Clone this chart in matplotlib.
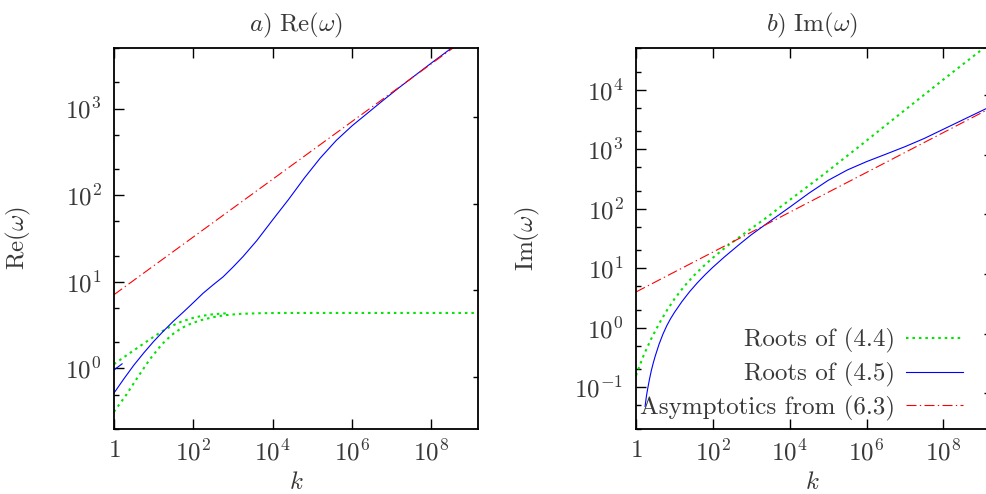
import matplotlib
matplotlib.use('Agg')
import matplotlib.pyplot as plt
from matplotlib.ticker import LogLocator, FixedLocator, NullLocator, NullFormatter

# Real part of the dispersion roots
k_re_blue = [1, 1.78, 3.16, 5.62, 10, 17.8, 31.6, 56.2, 100, 178, 316, 562, 1000, 1780,
             3980, 1e4, 2.51e4, 6.31e4, 1.58e5, 3.98e5, 1e6, 2.51e6, 6.31e6, 1.58e7,
             3.98e7, 1e8, 3.63e8, 1.5e9]
re_blue = [0.52, 0.76, 1.09, 1.51, 2.05, 2.71, 3.52, 4.48, 5.75, 7.41, 9.23, 11.4, 14.8,
           19.5, 29.9, 51.9, 89.1, 158, 268, 427, 631, 891, 1260, 1760, 2430, 3350, 5190,
           8410]
k_re_blue2 = [1, 1.6]
re_blue2 = [0.96, 1.13]
k_re_green1 = [1, 2.0, 3.98, 7.94, 15.8, 28.2, 50.1, 89.1, 158, 316, 794]
re_green1 = [1.12, 1.40, 1.74, 2.16, 2.66, 3.09, 3.47, 3.78, 4.03, 4.22, 4.35]
k_re_green2 = [1, 2.0, 3.98, 7.94, 15.8, 28.2, 50.1, 89.1, 158, 316, 631, 1580, 5010,
               2e4, 1.5e9]
re_green2 = [0.316, 0.49, 0.794, 1.27, 1.88, 2.43, 2.92, 3.31, 3.61, 3.91, 4.12, 4.27,
             4.34, 4.37, 4.37]
k_re_asym = [1, 1.5e9]
re_asym = [7.1, 8100]

# Imaginary part
k_im_blue = [1.72, 1.86, 2.0, 2.24, 2.51, 2.82, 3.16, 3.98, 5.01, 6.31, 7.94, 10, 15.8,
             25.1, 39.8, 63.1, 100, 200, 513, 1000, 3160, 1e4, 3.16e4, 1e5, 3.16e5,
             1e6, 3.16e6, 1e7, 3.16e7, 1e8, 3.16e8, 1.5e9]
im_blue = [0.048, 0.0705, 0.0929, 0.137, 0.193, 0.259, 0.335, 0.531, 0.781, 1.083,
           1.427, 1.814, 2.78, 4.08, 5.73, 7.81, 10.4, 15.5, 25.8, 36.5, 62.4, 106, 182,
           299, 447, 617, 822, 1100, 1510, 2160, 3090, 5010]
k_im_green = [1, 1.26, 1.58, 2.0, 2.51, 3.16, 4.47, 6.31, 10, 17.8, 31.6, 56.2, 100,
              229, 933, 2510, 5620, 6.17e4, 6.92e5, 6.17e6, 1.26e8, 1.5e9]
im_green = [0.158, 0.237, 0.344, 0.484, 0.662, 0.883, 1.34, 1.94, 3.05, 4.94, 7.48,
            10.75, 15.0, 23.3, 45.1, 71.1, 106, 339, 1150, 3550, 16600, 57500]
k_im_asym = [1, 1.5e9]
im_asym = [4.0, 4700]

k_ticks = [1, 1e2, 1e4, 1e6, 1e8]
k_ticklabels = ['$1$', '$10^{2}$', '$10^{4}$', '$10^{6}$', '$10^{8}$']
re_ticks = [1, 10, 100, 1000]
re_ticklabels = ['$10^{0}$', '$10^{1}$', '$10^{2}$', '$10^{3}$']
im_ticks = [0.1, 1, 10, 100, 1000, 10000]
im_ticklabels = ['$10^{-1}$', '$10^{0}$', '$10^{1}$', '$10^{2}$', '$10^{3}$', '$10^{4}$']
re_y2_ticks = [0.8, 8, 80, 800]
im_y2_ticks = [0.08, 0.8, 8, 80, 800, 8000]

labels = ['Roots of (4.4)', 'Roots of (4.5)', 'Asymptotics from (6.3)']

plt.rcParams['font.family'] = 'serif'
plt.rcParams['font.serif'] = ['cmr10', 'DejaVu Serif']
plt.rcParams['mathtext.fontset'] = 'cm'
plt.rcParams['axes.unicode_minus'] = False
FS = 18
plt.rcParams['font.size'] = FS
txt = '#383838'

GREEN = '#00e600'
BLUE = '#0000ff'
RED = '#ff0000'
dot_style = dict(color=GREEN, lw=1.5, dashes=(1.2, 1.9))
solid_style = dict(color=BLUE, lw=0.8)
dashdot_style = dict(color=RED, lw=0.8, dashes=(9, 3, 1.2, 3))

fig = plt.figure(figsize=(9.87, 4.94), dpi=100)
ax1 = fig.add_axes([0.1155, 0.1316, 0.3688, 0.7713])
ax2 = fig.add_axes([0.6444, 0.1316, 0.3572, 0.7713])


def setup(ax, yticks, ylabels, y2ticks, ylim):
    ax.set_xscale('log')
    ax.set_yscale('log')
    ax.set_xlim(1, 1.5e9)
    ax.set_ylim(*ylim)
    ax.set_xticks(k_ticks, k_ticklabels)
    ax.xaxis.set_minor_locator(NullLocator())
    ax.set_yticks(yticks, ylabels)
    ax.yaxis.set_minor_locator(LogLocator(base=10, subs=(2.0, 5.0)))
    ax.yaxis.set_minor_formatter(NullFormatter())
    ax.tick_params(which='both', direction='in', top=True, right=True,
                   colors='black', labelcolor=txt, labelsize=FS)
    ax.tick_params(which='major', length=7, width=1.0, pad=8)
    ax.tick_params(which='minor', length=3.5, width=1.0)
    ax.tick_params(axis='y', which='major', pad=9)
    for s in ax.spines.values():
        s.set_linewidth(1.3)
    # extra short ticks on the right border
    tw = ax.twinx()
    tw.set_yscale('log')
    tw.set_ylim(*ylim)
    tw.yaxis.set_major_locator(FixedLocator(y2ticks))
    tw.yaxis.set_minor_locator(NullLocator())
    tw.yaxis.set_major_formatter(NullFormatter())
    tw.tick_params(direction='in', length=3.5, width=1.0, right=True, left=False)
    for s in tw.spines.values():
        s.set_visible(False)


setup(ax1, re_ticks, re_ticklabels, re_y2_ticks, (0.2, 5000))
setup(ax2, im_ticks, im_ticklabels, im_y2_ticks, (0.02, 50000))

# a) real part
ax1.plot(k_re_green1, re_green1, **dot_style)
ax1.plot(k_re_green2, re_green2, **dot_style)
ax1.plot(k_re_blue, re_blue, **solid_style)
ax1.plot(k_re_blue2, re_blue2, **solid_style)
ax1.plot(k_re_asym, re_asym, **dashdot_style)

# b) imaginary part
l1, = ax2.plot(k_im_green, im_green, **dot_style)
l2, = ax2.plot(k_im_blue, im_blue, **solid_style)
l3, = ax2.plot(k_im_asym, im_asym, **dashdot_style)

ax1.set_title(r'$a)\ \mathrm{Re}(\omega)$', color=txt, fontsize=FS, pad=12)
ax2.set_title(r'$b)\ \mathrm{Im}(\omega)$', color=txt, fontsize=FS, pad=12)
ax1.set_ylabel(r'$\mathrm{Re}(\omega)$', color=txt, fontsize=FS)
ax2.set_ylabel(r'$\mathrm{Im}(\omega)$', color=txt, fontsize=FS)
ax1.yaxis.set_label_coords(-0.222, 0.5)
ax2.yaxis.set_label_coords(-0.267, 0.5)
for ax in (ax1, ax2):
    ax.set_xlabel(r'$k$', color=txt, fontsize=FS)
    ax.xaxis.set_label_coords(0.5, -0.112)

leg = ax2.legend([l1, l2, l3], labels, loc='lower right', frameon=False,
                 bbox_to_anchor=(0.989, -0.034), markerfirst=False,
                 handlelength=2.3, handletextpad=0.45, labelspacing=0.35,
                 borderaxespad=0.45, fontsize=FS)
for t in leg.get_texts():
    t.set_color(txt)

fig.savefig('out.png', dpi=100)
